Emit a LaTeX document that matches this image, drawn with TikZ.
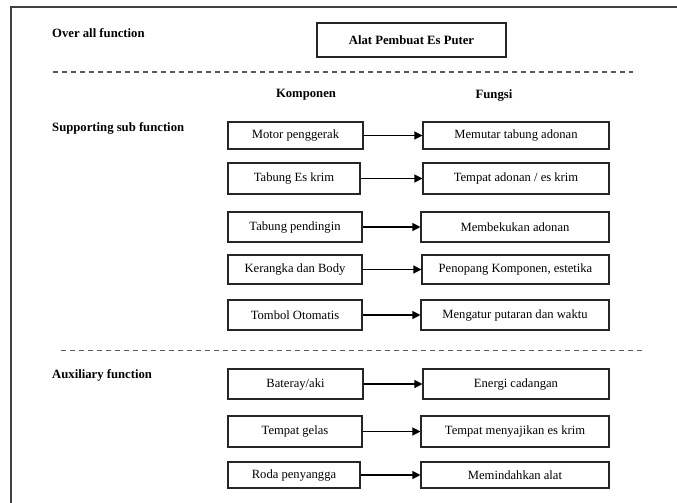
\documentclass[tikz,border=0pt]{standalone}
\usepackage{fontspec}
\setmainfont{Liberation Serif}
\usetikzlibrary{arrows.meta}
\begin{document}
\begin{tikzpicture}[x=1pt,y=-1pt,
  box/.style={draw=black!85,line width=1.1pt,inner sep=0pt,font=\fontsize{12.6}{14}\selectfont},
  lbl/.style={anchor=west,inner sep=0pt,font=\fontsize{12.7}{14}\selectfont\bfseries},
  hdr/.style={inner sep=0pt,font=\fontsize{12.7}{14}\selectfont\bfseries},
  sep/.style={draw=black!65,line width=1pt,dash pattern=on 5pt off 4pt},
  conn/.style={draw=black,line width=1.2pt,-{Triangle[length=8pt,width=8pt]}},
  frame/.style={draw=black!75,line width=1.3pt}]
\useasboundingbox (0,0) rectangle (677,503);
% frame
\coordinate (f1) at (677,7);
\coordinate (f2) at (11,7);
\coordinate (f3) at (11,503);
\draw[frame] (f1) -- (f2) -- (f3);
% top
\node[lbl] (oaf) at (52,33) {Over all function};
\node[box,minimum width=189pt,minimum height=34pt,font=\fontsize{12.7}{14}\selectfont\bfseries] (top) at (411.5,40) {Alat Pembuat Es Puter};
\coordinate (d1a) at (53,72);
\coordinate (d1b) at (633,72);
\draw[sep] (d1a) -- (d1b);
\node[hdr] (komp) at (306,95) {Komponen};
\node[hdr] (fung) at (494,95) {Fungsi};
\node[lbl] (ssf) at (52,128) {Supporting sub function};
% supporting
\node[box,minimum width=135pt,minimum height=27pt] (l1) at (295.5,135.5) {Motor penggerak};
\node[box,minimum width=186pt,minimum height=27pt] (r1) at (516,135.5) {Memutar tabung adonan};
\node[box,minimum width=132pt,minimum height=31pt] (l2) at (294,178.5) {Tabung Es krim};
\node[box,minimum width=186pt,minimum height=31pt] (r2) at (516,178.5) {Tempat adonan / es krim};
\node[box,minimum width=134pt,minimum height=30pt] (l3) at (295,227) {Tabung pendingin};
\node[box,minimum width=188pt,minimum height=30pt] (r3) at (515,227) {Membekukan adonan};
\node[box,minimum width=134pt,minimum height=29pt] (l4) at (295,269.5) {Kerangka dan Body};
\node[box,minimum width=187pt,minimum height=29pt] (r4) at (515.5,269.5) {Penopang Komponen, estetika};
\node[box,minimum width=134pt,minimum height=30pt] (l5) at (295,315) {Tombol Otomatis};
\node[box,minimum width=188pt,minimum height=30pt] (r5) at (515,315) {Mengatur putaran dan waktu};
\coordinate (d2a) at (61,350);
\coordinate (d2b) at (642,350);
\draw[sep] (d2a) -- (d2b);
\node[lbl] (aux) at (52,375) {Auxiliary function};
\node[box,minimum width=135pt,minimum height=30pt] (l6) at (295.5,384) {Bateray/aki};
\node[box,minimum width=186pt,minimum height=30pt] (r6) at (516,384) {Energi cadangan};
\node[box,minimum width=134pt,minimum height=31pt] (l7) at (295,431.5) {Tempat gelas};
\node[box,minimum width=188pt,minimum height=31pt] (r7) at (515,431.5) {Tempat menyajikan es krim};
\node[box,minimum width=132pt,minimum height=26pt] (l8) at (294,475) {Roda penyangga};
\node[box,minimum width=188pt,minimum height=26pt] (r8) at (515,475) {Memindahkan alat};
\foreach \i in {1,...,8}{\draw[conn] (l\i) -- (r\i);}
\end{tikzpicture}
\end{document}
